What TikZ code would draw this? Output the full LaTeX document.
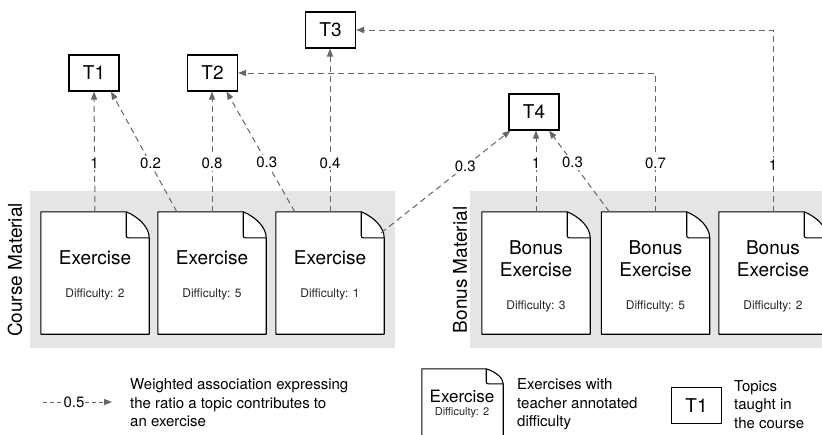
\documentclass[tikz,border=0pt]{standalone}
\usepackage{fontspec}
\setmainfont{TeX Gyre Heros}
\usetikzlibrary{arrows.meta,calc}

% outline of a sheet with a folded top-right corner, drawn round a named node
% #1 node, #2 fold width, #3 fold height
\newcommand\sheetoutline[3]{%
  \draw[sheetline] (#1.north west) -- ($(#1.north east)+(-#2,0)$)
    .. controls ($(#1.north east)+(-#2*0.45,#3*0.2)$) and ($(#1.north east)+(0,#3*0.6)$)
    .. ($(#1.north east)+(0,#3)$) -- (#1.south east) -- (#1.south west) -- cycle;
  \draw[sheetline, fill=none, rounded corners=2pt] ($(#1.north east)+(-#2,0)$)
    -- ++(0,#3) -- ($(#1.north east)+(0,#3)$);
}

\begin{document}
\begin{tikzpicture}[x=1pt,y=-1pt,
  materialbg/.style={fill=black!10, draw=none},
  sheet/.style={draw=none, minimum width=108pt, minimum height=122pt, inner sep=0pt},
  sheetline/.style={draw=black, line width=1.1pt, fill=white, line join=round},
  topicbox/.style={draw=black, line width=1.1pt, fill=white, minimum width=50pt,
    minimum height=36pt, inner sep=0pt, font=\fontsize{19}{22}\selectfont},
  sheettitle/.style={font=\fontsize{19}{22}\selectfont, inner sep=0pt, align=center},
  difflabel/.style={font=\fontsize{12}{14}\selectfont, text=black!85, inner sep=0pt},
  assoc/.style={draw=black!60, line width=1pt, dash pattern=on 6pt off 4pt,
    -{Triangle[length=8pt,width=6pt]}},
  weightlabel/.style={fill=white, inner sep=2pt, text=black, font=\fontsize{15}{17}\selectfont},
  sidelabel/.style={rotate=90, font=\fontsize{19}{22}\selectfont, inner sep=0pt},
  legendtext/.style={anchor=west, align=left, inner sep=0pt, font=\fontsize{15}{18.5}\selectfont},
]
\path[use as bounding box, clip] (0,0) rectangle (822,434);

% shaded material areas
\path[materialbg] (30,191) rectangle (395,348);
\path[materialbg] (470,191) rectangle (830,348);

\node[sidelabel] (cm) at (15,270) {Course Material};
\node[sidelabel] (bm) at (460,270) {Bonus Material};

% topics
\node[topicbox] (t1) at (94,73) {T1};
\node[topicbox] (t2) at (212.5,73) {T2};
\node[topicbox] (t3) at (330.5,30) {T3};
\node[topicbox] (t4) at (534,112) {T4};

% exercise sheets
\node[sheet] (e1) at (95,273) {};
\node[sheet] (e2) at (212,273) {};
\node[sheet] (e3) at (330,273) {};
\node[sheet] (e4) at (536,273) {};
\node[sheet] (e5) at (655.5,273) {};
\node[sheet] (e6) at (773,273) {};
\foreach \s in {e1,e2,e3,e4,e5,e6} {\sheetoutline{\s}{23}{26}}

\node[sheettitle] (e1t) at ($(e1)+(0,-15)$) {Exercise};
\node[difflabel] (e1d) at ($(e1)+(0,21)$) {Difficulty: 2};
\node[sheettitle] (e2t) at ($(e2)+(0,-15)$) {Exercise};
\node[difflabel] (e2d) at ($(e2)+(0,21)$) {Difficulty: 5};
\node[sheettitle] (e3t) at ($(e3)+(0,-15)$) {Exercise};
\node[difflabel] (e3d) at ($(e3)+(0,21)$) {Difficulty: 1};
\node[sheettitle] (e4t) at ($(e4)+(0,-14)$) {Bonus\\Exercise};
\node[difflabel] (e4d) at ($(e4)+(0,33)$) {Difficulty: 3};
\node[sheettitle] (e5t) at ($(e5)+(0,-14)$) {Bonus\\Exercise};
\node[difflabel] (e5d) at ($(e5)+(0,33)$) {Difficulty: 5};
\node[sheettitle] (e6t) at ($(e6)+(0,-14)$) {Bonus\\Exercise};
\node[difflabel] (e6d) at ($(e6)+(0,33)$) {Difficulty: 2};

% weighted associations
\draw[assoc] (e1.north) -- node[weightlabel, pos=0.405] {1} (t1.south);
\draw[assoc] ($(e2.north west)+(19,0)$) -- node[weightlabel, pos=0.4] {0.2} ($(t1.south)+(17,0)$);
\draw[assoc] (e2.north) -- node[weightlabel, pos=0.405] {0.8} (e2.north |- t2.south);
\draw[assoc] ($(e3.north west)+(19,0)$) -- node[weightlabel, pos=0.41] {0.3} ($(t2.south)+(14,0)$);
\draw[assoc] (e3.north) -- node[weightlabel, pos=0.3] {0.4} (e3.north |- t3.south);
\draw[assoc] ($(e3.north east)+(-3,21)$) -- node[weightlabel, pos=0.65] {0.3} ($(t4.south west)+(2,0)$);
\draw[assoc] (e4.north) -- node[weightlabel, pos=0.6] {1} (e4.north |- t4.south);
\draw[assoc] ($(e5.north west)+(8,0)$) -- node[weightlabel, pos=0.61] {0.3} ($(t4.south)+(15,0)$);
\draw[assoc] (e5.north) |- node[weightlabel, pos=0.176] {0.7} (t2.east);
\draw[assoc] (e6.north) |- node[weightlabel, pos=0.129] {1} (t3.east);

% legend
\coordinate (la) at (43,402);
\coordinate (lb) at (112,402);
\draw[assoc, dash pattern=on 4pt off 3pt] (la) -- node[weightlabel, pos=0.45, inner sep=1pt] {0.5} (lb);
\node[legendtext] (n1) at (130,403) {Weighted association expressing\\the ratio a topic contributes to\\an exercise};

\node[draw=none, minimum width=81pt, minimum height=81pt, inner sep=0pt] (lx) at (462.5,409.5) {};
\sheetoutline{lx}{17}{15}
\node[font=\fontsize{17}{20}\selectfont, inner sep=0pt] (lxt) at (462,396) {Exercise};
\node[font=\fontsize{11}{13}\selectfont, text=black!85, inner sep=0pt] (lxd) at (462,413) {Difficulty: 2};
\node[legendtext] (n2) at (517,404.5) {Exercises with\\teacher annotated\\difficulty};

\node[topicbox] (lt) at (696.5,405.5) {T1};
\node[legendtext] (n3) at (734,404.5) {Topics\\taught in\\the course};
\end{tikzpicture}
\end{document}
